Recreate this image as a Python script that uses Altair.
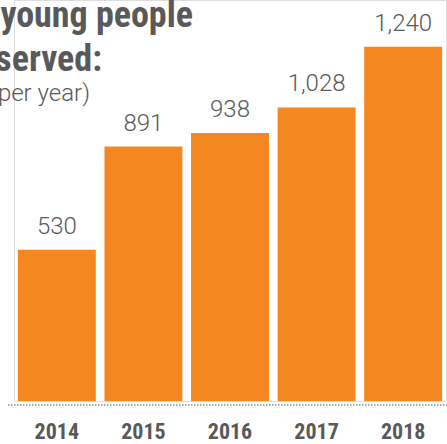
import altair as alt
import pandas as pd

years = ["2014", "2015", "2016", "2017", "2018"]
served = [530, 891, 938, 1028, 1240]
title_lines = ["young people", "served:"]
subtitle = "(per year)"

ORANGE = "#F58720"
GRAY = "#595959"
COND = "Roboto Condensed"

df = pd.DataFrame({"year": years, "served": served})

x = alt.X("year:N", sort=years, axis=None,
          scale=alt.Scale(paddingInner=0.1, paddingOuter=0.045))
y = alt.Y("served:Q", axis=None, scale=alt.Scale(domain=[0, 1404], nice=False))

bars = alt.Chart(df).mark_bar(color=ORANGE).encode(x=x, y=y)

vals = alt.Chart(df).mark_text(
    font="Roboto", fontWeight=300, fontSize=24, color=GRAY,
    baseline="alphabetic", dy=-16
).encode(x=x, y=y, text=alt.Text("served:Q", format=","))

yrs = alt.Chart(df).mark_text(
    font=COND, fontWeight="bold", fontSize=22, color=GRAY, baseline="middle"
).encode(x=x, y=alt.value(432), text="year:N")

rule = alt.Chart(pd.DataFrame({"a": [0]})).mark_rule(
    color="#8a8a8a", strokeDash=[1.5, 1.5], strokeWidth=1.5
).encode(x=alt.value(-6), x2=alt.value(434), y=alt.value(405))

t1 = alt.Chart(pd.DataFrame({"t": [title_lines[0]]})).mark_text(
    font=COND, fontWeight="bold", fontSize=36, color=GRAY,
    align="right", baseline="alphabetic"
).encode(x=alt.value(193 - 14), y=alt.value(27), text="t:N")

t2 = alt.Chart(pd.DataFrame({"t": [title_lines[1]]})).mark_text(
    font=COND, fontWeight="bold", fontSize=36, color=GRAY,
    align="right", baseline="alphabetic"
).encode(x=alt.value(102 - 14), y=alt.value(71), text="t:N")

t3 = alt.Chart(pd.DataFrame({"t": [subtitle]})).mark_text(
    font="Roboto", fontWeight=300, fontSize=24, color=GRAY,
    align="right", baseline="alphabetic"
).encode(x=alt.value(90 - 14), y=alt.value(101), text="t:N")

chart = alt.layer(bars, vals, yrs, rule, t1, t2, t3).properties(
    width=432, height=401,
    autosize=alt.AutoSizeParams(type="none"),
    padding={"left": 14, "top": 0, "right": 1, "bottom": 43},
).configure_view(stroke=None, clip=False).configure(background="white")

chart.save("out.html", embed_options={"renderer": "svg", "actions": False})
